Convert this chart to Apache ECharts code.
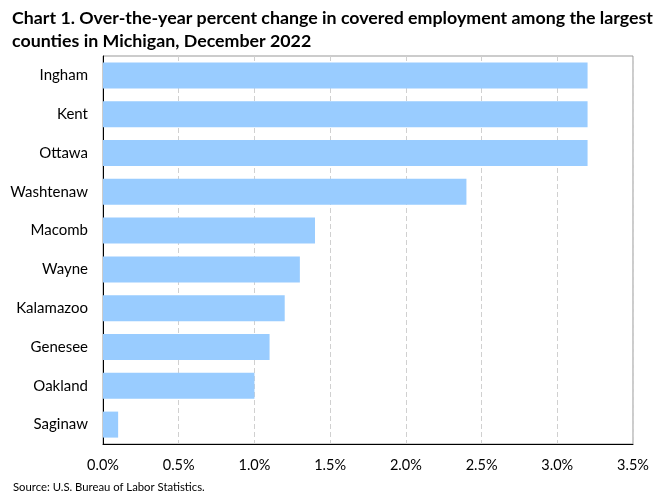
<!DOCTYPE html>
<html><head><meta charset="utf-8">
<script src="https://cdn.jsdelivr.net/npm/echarts@6/dist/echarts.min.js"></script>
<style>html,body{margin:0;padding:0;background:#fff}#c{width:660px;height:492px}</style>
</head><body><div id="c"></div>
<script>
const categories = ["Ingham","Kent","Ottawa","Washtenaw","Macomb","Wayne","Kalamazoo","Genesee","Oakland","Saginaw"];
const values = [3.2,3.2,3.2,2.4,1.4,1.3,1.2,1.1,1.0,0.1];
const titleLines = ["Chart 1. Over-the-year percent change in covered employment among the largest","counties in Michigan, December 2022"];
const sourceText = "Source: U.S. Bureau of Labor Statistics.";
const font = "Lato, 'Open Sans', sans-serif";
const chart = echarts.init(document.getElementById('c'));
chart.setOption({
  animation:false,
  title:[{text:titleLines.join('\n'),left:7,top:2,textStyle:{fontFamily:font,fontWeight:'bold',fontSize:17.8,color:'#000',lineHeight:23}},
         {text:sourceText,left:8,top:477,textStyle:{fontFamily:font,fontWeight:'normal',fontSize:11.3,color:'#000'}}],
  grid:{left:103,right:27,top:56,bottom:48,show:true,borderColor:'#999',borderWidth:1},
  xAxis:{type:'value',min:0,max:3.5,interval:0.5,
    axisLine:{show:true,lineStyle:{color:'#000'}},axisTick:{show:false},
    splitLine:{show:true,lineStyle:{color:'#d0d0d0',type:[5,3]}},
    axisLabel:{margin:14,fontFamily:font,fontSize:14.5,color:'#000',formatter:v=>v.toFixed(1)+'%'}},
  yAxis:{type:'category',data:categories,inverse:true,
    axisLine:{show:true,lineStyle:{color:'#000'}},axisTick:{show:false},
    axisLabel:{margin:15,fontFamily:font,fontSize:15,color:'#000'}},
  series:[{type:'bar',data:values,barWidth:'67%',itemStyle:{color:'#99CCFF'}}]
});
</script></body></html>
